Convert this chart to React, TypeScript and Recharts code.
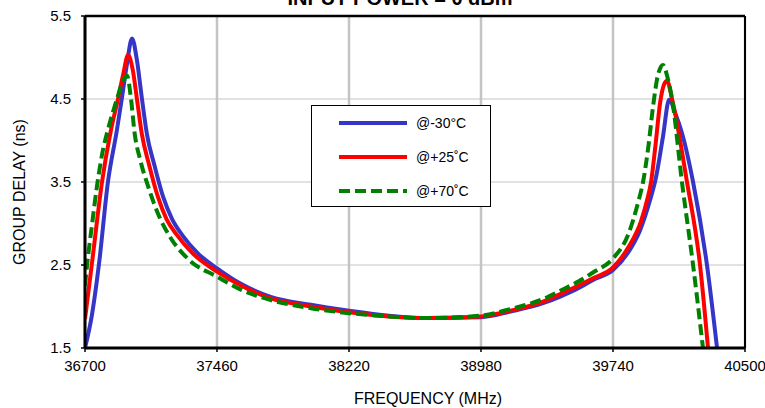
import React from 'react';
import { LineChart, Line, XAxis, YAxis, CartesianGrid, Legend, ReferenceLine } from 'recharts';

// (MHz / ns)
const freqCold = [36700, 36740, 36781, 36832, 36884, 36913, 36940, 36971, 36998, 37028, 37057, 37100, 37150, 37200, 37260, 37350, 37460, 37600, 37765, 38000, 38220, 38450, 38669, 38980, 39150, 39337, 39436, 39540, 39625, 39740, 39830, 39896, 39953, 39988, 40028, 40063, 40100, 40137, 40201, 40281, 40339];
const delayCold = [1.5, 1.9, 2.52, 3.5, 4.13, 4.52, 4.9, 5.23, 4.98, 4.5, 4.07, 3.7, 3.32, 3.06, 2.86, 2.64, 2.46, 2.27, 2.12, 2.02, 1.95, 1.89, 1.86, 1.87, 1.94, 2.04, 2.12, 2.22, 2.32, 2.44, 2.66, 2.92, 3.28, 3.56, 4.05, 4.49, 4.32, 4.09, 3.5, 2.5, 1.5];

const freqRoom = [36700, 36740, 36798, 36850, 36890, 36920, 36948, 36975, 36999, 37028, 37070, 37120, 37170, 37230, 37320, 37460, 37600, 37765, 38000, 38220, 38450, 38669, 38980, 39150, 39337, 39436, 39540, 39625, 39740, 39830, 39900, 39936, 39959, 39985, 40011, 40035, 40051, 40080, 40166, 40241, 40287];
const delayRoom = [1.85, 2.52, 3.5, 4.13, 4.5, 4.8, 5.03, 4.85, 4.5, 4.07, 3.7, 3.32, 3.05, 2.86, 2.64, 2.42, 2.25, 2.1, 2.0, 1.93, 1.88, 1.86, 1.88, 1.95, 2.06, 2.15, 2.25, 2.34, 2.47, 2.72, 3.02, 3.28, 3.5, 3.95, 4.45, 4.68, 4.72, 4.5, 3.5, 2.5, 1.5];

const freqHot = [36700, 36712, 36740, 36769, 36800, 36832, 36884, 36915, 36942, 36965, 36985, 37020, 37063, 37120, 37189, 37300, 37460, 37600, 37765, 38000, 38220, 38450, 38669, 38980, 39150, 39337, 39436, 39540, 39625, 39740, 39830, 39884, 39913, 39945, 39970, 40000, 40028, 40055, 40080, 40137, 40201, 40258];
const delayHot = [2.25, 2.5, 2.98, 3.45, 3.85, 4.13, 4.5, 4.7, 4.78, 4.5, 4.1, 3.75, 3.45, 3.12, 2.84, 2.56, 2.36, 2.2, 2.08, 1.98, 1.92, 1.88, 1.86, 1.89, 1.97, 2.09, 2.19, 2.3, 2.41, 2.58, 2.88, 3.25, 3.5, 3.95, 4.4, 4.8, 4.91, 4.75, 4.5, 3.5, 2.5, 1.5];

const xTicks = [36700, 37460, 38220, 38980, 39740, 40500];
const yTicks = [1.5, 2.5, 3.5, 4.5, 5.5];

const seriesNames = ['@-30°C', '@+25˚C', '@+70˚C'];
const seriesColors = ['#3535c8', '#ff0000', '#008000'];

const toPoints = (f: number[], d: number[]) => f.map((x, i) => ({ f: x, d: d[i] }));

const FONT = 'Arial, "Liberation Sans", sans-serif';

const LegendBox = () => (
  <div
    style={{
      width: 178,
      height: 100,
      border: '1px solid #000',
      background: '#fff',
      fontFamily: FONT,
      fontSize: 14,
      color: '#000',
    }}
  >
    {seriesNames.map((name, i) => (
      <div key={name} style={{ display: 'flex', alignItems: 'center', height: 34 }}>
        <svg width={104} height={10} style={{ display: 'block' }}>
          <line
            x1={27}
            x2={95}
            y1={5}
            y2={5}
            stroke={seriesColors[i]}
            strokeWidth={4}
            strokeDasharray={i === 2 ? '11 5' : undefined}
          />
        </svg>
        <span>{name}</span>
      </div>
    ))}
  </div>
);

const App = () => {
  const cold = toPoints(freqCold, delayCold);
  const room = toPoints(freqRoom, delayRoom);
  const hot = toPoints(freqHot, delayHot);

  return (
    <div style={{ position: 'absolute', left: 0, top: 0, width: 765, height: 408, background: '#fff' }}>
      <LineChart width={765} height={408} margin={{ top: 16, right: 20, bottom: 30, left: 0 }}>
        <CartesianGrid horizontal={false} stroke="#c4c4c4" strokeWidth={2.5} />
        <CartesianGrid vertical={false} stroke="#c4c4c4" strokeWidth={1} />
        <XAxis
          dataKey="f"
          type="number"
          domain={[36700, 40500]}
          ticks={xTicks}
          height={30}
          axisLine={{ stroke: '#000', strokeWidth: 3 }}
          tickLine={{ stroke: '#000', strokeWidth: 1.5 }}
          tickSize={4}
          tickMargin={8}
          tick={{ fill: '#000', fontSize: 15, fontFamily: FONT }}
          allowDataOverflow
        />
        <YAxis
          type="number"
          domain={[1.5, 5.5]}
          ticks={yTicks}
          width={85}
          axisLine={{ stroke: '#000', strokeWidth: 3 }}
          tickLine={{ stroke: '#000', strokeWidth: 1.5 }}
          tickSize={4}
          tickMargin={10}
          tickFormatter={(v: number) => v.toFixed(1)}
          tick={{ fill: '#000', fontSize: 15, fontFamily: FONT }}
          allowDataOverflow
        />
        <ReferenceLine y={5.5} stroke="#000" strokeWidth={2.5} />
        <ReferenceLine x={40500} stroke="#000" strokeWidth={2} />
        <Legend
          layout="vertical"
          align="center"
          verticalAlign="middle"
          content={() => <LegendBox />}
          wrapperStyle={{ left: 311, top: 105, width: 180, height: 102 }}
        />
        <Line data={cold} dataKey="d" name={seriesNames[0]} type="monotone" stroke={seriesColors[0]} strokeWidth={4} dot={false} isAnimationActive={false} />
        <Line data={room} dataKey="d" name={seriesNames[1]} type="monotone" stroke={seriesColors[1]} strokeWidth={4} dot={false} isAnimationActive={false} />
        <Line data={hot} dataKey="d" name={seriesNames[2]} type="monotone" stroke={seriesColors[2]} strokeWidth={4} strokeDasharray="11 5" dot={false} isAnimationActive={false} />
      </LineChart>
      <svg width={765} height={408} style={{ position: 'absolute', left: 0, top: 0, pointerEvents: 'none', fontFamily: FONT }}>
        <text x={400} y={5} textAnchor="middle" fontSize={20} fontWeight="bold" fill="#000">
          INPUT POWER = 0 dBm
        </text>
        <text x={428} y={404} textAnchor="middle" fontSize={16} fill="#000">
          FREQUENCY (MHz)
        </text>
        <text x={25} y={192} textAnchor="middle" fontSize={16} fill="#000" transform="rotate(-90 25 192)">
          GROUP DELAY (ns)
        </text>
      </svg>
    </div>
  );
};

export default App;
